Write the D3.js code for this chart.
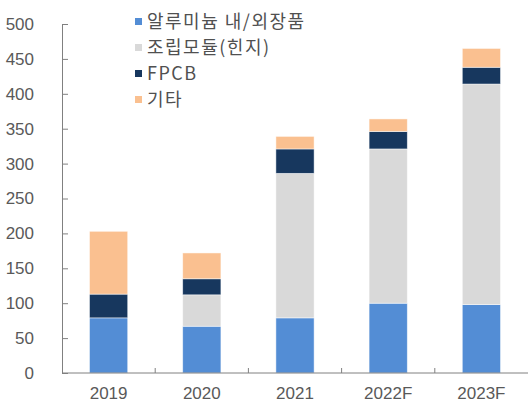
<!DOCTYPE html>
<html>
<head>
<meta charset="utf-8">
<script src="https://cdn.jsdelivr.net/npm/d3@7"></script>
<style>
  body { margin: 0; background: #fff; }
  svg { display: block; }
</style>
</head>
<body>
<svg id="chart" width="528" height="403"></svg>
<script>
// data
const years = ["2019", "2020", "2021", "2022F", "2023F"];
const seriesNames = ["알루미늄 내/외장품", "조립모듈(힌지)", "FPCB", "기타"];
const aluminum = [79, 67, 79, 100, 98];
const hingeModule = [0, 45, 207, 221, 316];
const fpcb = [34, 23, 35, 25, 24];
const others = [90, 37, 18, 18, 27];
const yTicks = [0, 50, 100, 150, 200, 250, 300, 350, 400, 450, 500];

const colors = ["#538dd5", "#d9d9d9", "#17375e", "#fac090"];

const svg = d3.select("#chart");
const margin = {left: 62, right: 0, top: 24, bottom: 30};
const width = 528 - margin.left - margin.right;
const height = 403 - margin.top - margin.bottom;

const g = svg.append("g").attr("transform", `translate(${margin.left},${margin.top})`);

const rows = years.map((y, i) => ({
  year: y,
  s0: aluminum[i], s1: hingeModule[i], s2: fpcb[i], s3: others[i]
}));
const stack = d3.stack().keys(["s0", "s1", "s2", "s3"])(rows);

const x = d3.scaleBand().domain(years).range([0, width]).paddingInner(0.59).paddingOuter(0.295);
const y = d3.scaleLinear().domain([0, 500]).range([height, 0]);

// bars
g.selectAll(".layer")
  .data(stack)
  .enter()
  .append("g")
  .attr("class", "layer")
  .attr("fill", (d, i) => colors[i])
  .selectAll("rect")
  .data(d => d)
  .enter()
  .append("rect")
  .attr("x", d => x(d.data.year))
  .attr("width", x.bandwidth())
  .attr("y", d => y(d[1]))
  .attr("height", d => Math.max(0, y(d[0]) - y(d[1])))
  .attr("stroke", "#fff")
  .attr("stroke-opacity", 0.6)
  .attr("stroke-width", 0.8);

// y axis, ticks pointing inward
const yAxis = g.append("g")
  .call(d3.axisLeft(y).tickValues(yTicks).tickSize(-6).tickPadding(28));
yAxis.select(".domain").attr("stroke", "#808080");
yAxis.selectAll(".tick line").attr("stroke", "#808080");
yAxis.selectAll("text")
  .attr("fill", "#595959")
  .style("font-family", "'Liberation Sans', Arial, sans-serif")
  .style("font-size", "17px");

// x axis: baseline with separators between categories
const step = x.step();
const xAxis = g.append("g").attr("transform", `translate(0,${height})`);
xAxis.append("line")
  .attr("x1", 0).attr("x2", width)
  .attr("stroke", "#808080");
xAxis.selectAll(".sep")
  .data(d3.range(1, years.length))
  .enter()
  .append("line")
  .attr("class", "sep")
  .attr("x1", d => d * step).attr("x2", d => d * step)
  .attr("y1", 0).attr("y2", -5)
  .attr("stroke", "#808080");
xAxis.selectAll(".lbl")
  .data(years)
  .enter()
  .append("text")
  .attr("class", "lbl")
  .attr("x", d => x(d) + x.bandwidth() / 2)
  .attr("y", 26)
  .attr("text-anchor", "middle")
  .attr("fill", "#595959")
  .style("font-family", "'Liberation Sans', Arial, sans-serif")
  .style("font-size", "17px")
  .text(d => d);

// legend
const legend = svg.append("g").attr("transform", "translate(135,0)");
const item = legend.selectAll(".item")
  .data(seriesNames)
  .enter()
  .append("g")
  .attr("class", "item")
  .attr("transform", (d, i) => `translate(0,${21.5 + i * 26})`);
item.append("rect")
  .attr("x", 0).attr("y", -3.5)
  .attr("width", 7).attr("height", 7)
  .attr("fill", (d, i) => colors[i]);
item.append("text")
  .attr("x", 12)
  .attr("dy", "0.35em")
  .attr("fill", "#505050")
  .style("font-family", "'Noto Sans CJK KR', sans-serif")
  .style("font-size", "18px")
  .style("letter-spacing", "1.5px")
  .text(d => d);
</script>
</body>
</html>
